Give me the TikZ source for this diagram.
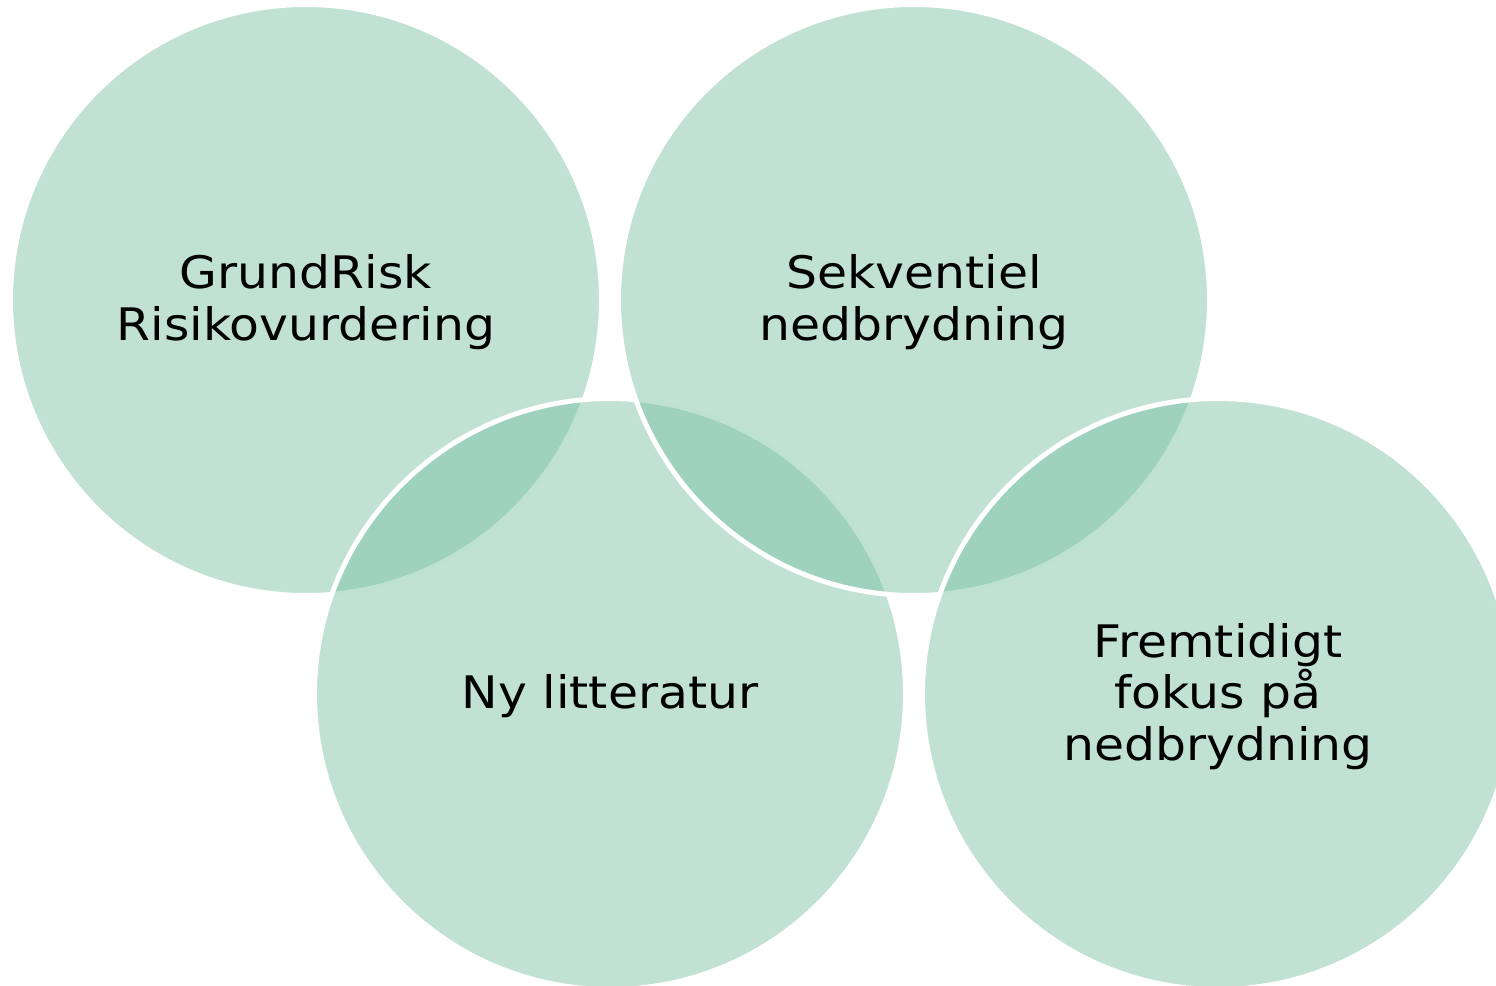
\documentclass[tikz,border=0pt]{standalone}
\usepackage{fontspec}
\setmainfont{DejaVu Sans}[FakeStretch=1.09]
\definecolor{cfill}{RGB}{123,193,166}
\begin{document}
\begin{tikzpicture}[x=0.02cm,y=-0.02cm,
  bub/.style={circle, minimum size=11.82cm, inner sep=0pt, fill=cfill,
    fill opacity=0.48, draw=white, draw opacity=1, line width=2.8pt},
  lbl/.style={align=center, text=black, inner sep=0pt, yshift=-0.05cm,
    font=\fontsize{25.5}{29.5}\selectfont}]
\useasboundingbox (0,0) rectangle (1496,985);
\clip (0,0) rectangle (1496,985);
\node[bub] (a) at (306,300) {};
\node[bub] (c) at (610,694) {};
\node[bub] (b) at (914,300) {};
\node[bub] (d) at (1218,694) {};
\node[lbl] (ta) at (a.center) {GrundRisk\\Risikovurdering};
\node[lbl] (tc) at (c.center) {Ny litteratur};
\node[lbl] (tb) at (b.center) {Sekventiel\\nedbrydning};
\node[lbl] (td) at (d.center) {Fremtidigt\\fokus på\\nedbrydning};
\end{tikzpicture}
\end{document}
